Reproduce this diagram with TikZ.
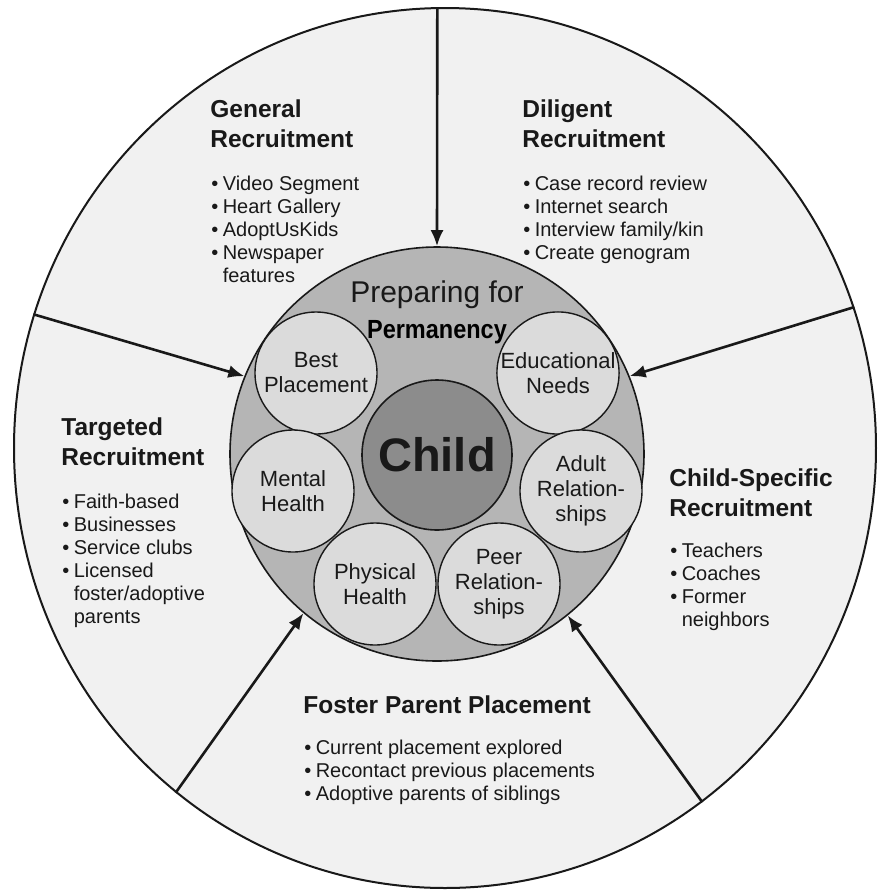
\documentclass[tikz,border=0pt]{standalone}
\usepackage{fontspec}
\setmainfont{Liberation Sans}
\usetikzlibrary{shapes.geometric, arrows.meta, positioning}
\definecolor{outerfill}{gray}{0.945}
\definecolor{prepfill}{gray}{0.71}
\definecolor{topicfill}{gray}{0.86}
\definecolor{childfill}{gray}{0.55}
\definecolor{ink}{gray}{0.1}
\newcommand{\bul}{\textbullet\hspace{0.22em}}
\newcommand{\hang}{\hphantom{\bul}}
\tikzset{
    outerring/.style={draw=ink, ellipse, fill=outerfill, line width=1pt, minimum width=431pt, minimum height=440pt, inner sep=0pt},
    prepcircle/.style={draw=ink, circle, fill=prepfill, line width=0.8pt, minimum size=207pt, inner sep=0pt},
    childcircle/.style={draw=ink, circle, fill=childfill, line width=0.8pt, minimum size=75pt, inner sep=0pt, text=ink, font=\bfseries\fontsize{23.5}{26}\selectfont},
    topic/.style={draw=ink, circle, fill=topicfill, line width=0.7pt, minimum size=61pt, inner sep=0pt, align=center, text=ink, font=\fontsize{11}{12.5}\selectfont},
    heading/.style={anchor=north west, inner sep=0pt, align=left, text=ink, font=\bfseries\fontsize{12.25}{15}\selectfont},
    itemlist/.style={anchor=north west, inner sep=0pt, align=left, text=ink, font=\fontsize{10}{11.5}\selectfont},
    arrow/.style={-{Latex[length=8pt,width=6.5pt]}, line width=1.3pt, draw=ink}
}

\begin{document}
\begin{tikzpicture}[x=0.5pt, y=-0.5pt]
        \useasboundingbox (0,0) rectangle (878,891);

        % Cerchio esterno e centro
        \node (outer) [outerring] at (445,448) {};
        \node (prep) [prepcircle] at (437,454) {};

        % Frecce verso il centro
        \draw [arrow] (outer.91) -- (prep.90);
        \draw [arrow] (outer.162) -- (prep.158);
        \draw [arrow] (outer.19) -- (prep.22);
        \draw [arrow] (outer.232) -- (prep.230);
        \draw [arrow] (outer.-54) -- (prep.-51);

        % Titolo interno
        \node (preptitle) [anchor=base, inner sep=0pt, text=ink, font=\fontsize{15}{17}\selectfont] at (437,302) {Preparing for};
        \node (permanency) [anchor=base, inner sep=0pt, text=black, font=\bfseries\fontsize{12.5}{14}\selectfont] at (437,338) {\scalebox{0.94}[1.05]{Permanency}};

        % Bisogni attorno al bambino
        \node (child) [childcircle] at (437,455) {Child};
        \node (best) [topic] at (316,373) {Best\\Placement};
        \node (edu) [topic] at (558,373) {Educational\\Needs};
        \node (mental) [topic] at (293,491) {Mental\\Health};
        \node (adult) [topic] at (581,491) {Adult\\Relation-\\ships};
        \node (physical) [topic] at (375,584) {Physical\\Health};
        \node (peer) [topic] at (499,584) {Peer\\Relation-\\ships};

        % Settori di reclutamento
        \node (general) [heading] at (210,99) {General\\Recruitment};
        \node (generallist) [itemlist] at (211,176) {\bul Video Segment\\\bul Heart Gallery\\\bul AdoptUsKids\\\bul Newspaper\\\hang features};

        \node (diligent) [heading] at (522,99) {Diligent\\Recruitment};
        \node (diligentlist) [itemlist] at (523,176) {\bul Case record review\\\bul Internet search\\\bul Interview family/kin\\\bul Create genogram};

        \node (targeted) [heading] at (61,417) {Targeted\\Recruitment};
        \node (targetedlist) [itemlist] at (62,494) {\bul Faith-based\\\bul Businesses\\\bul Service clubs\\\bul Licensed\\\hang foster/adoptive\\\hang parents};

        \node (specific) [heading] at (669,468) {Child-Specific\\Recruitment};
        \node (specificlist) [itemlist] at (670,543) {\bul Teachers\\\bul Coaches\\\bul Former\\\hang neighbors};

        \node (foster) [heading] at (303,695) {Foster Parent Placement};
        \node (fosterlist) [itemlist] at (304,740) {\bul Current placement explored\\\bul Recontact previous placements\\\bul Adoptive parents of siblings};

\end{tikzpicture}
\end{document}
